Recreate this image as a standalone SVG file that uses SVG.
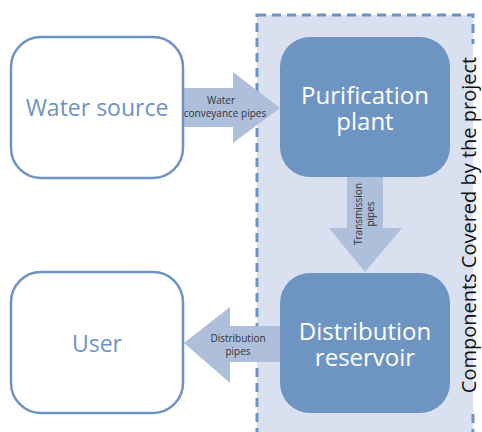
<svg xmlns="http://www.w3.org/2000/svg" width="482" height="432" viewBox="0 0 482 432">
<style>
.outer{fill:#ffffff;stroke:#6e93c3;stroke-width:2.5}
.inner{fill:#6e95c2}
.arrow{fill:#aebfdc}
.lblOut{font-family:"Open Sans","Liberation Sans",sans-serif;font-size:23px;fill:#6e93c3;text-anchor:middle}
.lblIn{font-family:"Open Sans","Liberation Sans",sans-serif;font-size:24px;fill:#ffffff;text-anchor:middle}
.pipe{font-family:"Open Sans","Liberation Sans",sans-serif;font-size:10px;fill:#333333;text-anchor:middle}
.side{font-family:"Open Sans","Liberation Sans",sans-serif;font-size:20px;fill:#111111;text-anchor:middle}
</style>
<g id="project-area">
<rect x="257" y="15" width="216" height="430" fill="#d9e0ef" stroke="#6e93c3" stroke-width="3" stroke-dasharray="9,6"/>
<rect x="459" y="44" width="14" height="366" fill="#d9e0ef"/>
<rect x="473" y="44" width="3" height="366" fill="#ffffff"/>
<text class="side" transform="translate(476,225) rotate(-90)">Components Covered by the project</text>
</g>
<g id="connectors">
<g id="water-conveyance">
<polygon class="arrow" points="183,88 233,88 233,72 280,108 233,143 233,127 183,127"/>
<text class="pipe" x="221" y="104">Water</text>
<text class="pipe" x="225" y="117">conveyance pipes</text>
</g>
<g id="transmission">
<polygon class="arrow" points="347,177 383,177 383,228 402,228 365,272 329,228 347,228"/>
<text class="pipe" transform="translate(362,214) rotate(-90)">Transmission</text>
<text class="pipe" transform="translate(374,214) rotate(-90)">pipes</text>
</g>
<g id="distribution">
<polygon class="arrow" points="280,326 230,326 230,307 184,343 230,383 230,362 280,362"/>
<text class="pipe" x="238" y="342">Distribution</text>
<text class="pipe" x="238" y="355">pipes</text>
</g>
</g>
<g id="water-source">
<rect class="outer" x="11" y="37" width="172" height="141" rx="30"/>
<text class="lblOut" x="97" y="116">Water source</text>
</g>
<g id="user">
<rect class="outer" x="11" y="272" width="172" height="141" rx="30"/>
<text class="lblOut" x="97" y="352">User</text>
</g>
<g id="purification-plant">
<rect class="inner" x="280" y="37" width="170" height="140" rx="30"/>
<text class="lblIn" x="365" y="104">Purification</text>
<text class="lblIn" x="365" y="130">plant</text>
</g>
<g id="distribution-reservoir">
<rect class="inner" x="280" y="273" width="170" height="140" rx="30"/>
<text class="lblIn" x="365" y="340">Distribution</text>
<text class="lblIn" x="365" y="366">reservoir</text>
</g>
</svg>
